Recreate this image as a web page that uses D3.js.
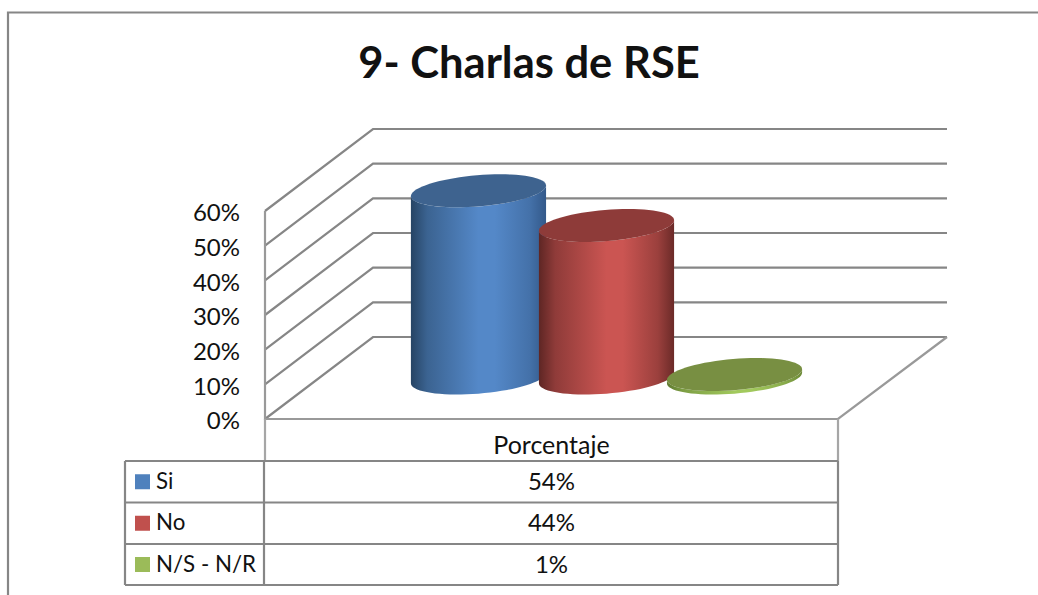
<!DOCTYPE html>
<html>
<head>
<meta charset="utf-8">
<script src="https://cdn.jsdelivr.net/npm/d3@7"></script>
<style>
  html, body { margin: 0; background: #fff; }
  text { font-family: Lato, "Open Sans", sans-serif; fill: #111; }
</style>
</head>
<body>
<div id="chart"></div>
<script>
const seriesNames = ["Si", "No", "N/S - N/R"];
const seriesValues = [0.54, 0.44, 0.01];
const seriesLabels = ["54%", "44%", "1%"];
const axisTicks = [0, 0.1, 0.2, 0.3, 0.4, 0.5, 0.6];
const category = "Porcentaje";
const chartTitle = "9- Charlas de RSE";
const swatch = ["#4f81bd", "#c0504d", "#9bbb59"];
const shades = [
  { dark: "#264464", mid: "#5488c8", edge: "#33598a", top: "#3e638f" },
  { dark: "#5e2624", mid: "#cb5552", edge: "#6b2a28", top: "#8e3b39" },
  { dark: "#5f7a30", mid: "#a2c95d", edge: "#6d8a38", top: "#788f42" }
];

const width = 1038, height = 595;
const depthX = 108, depthY = 82; // wall offset of the 3d box
const left = 265, right = 838, floorY = 419, topY = 211;
const tableX = 125, rowY = [461, 502.5, 544, 585];

const svg = d3.select("#chart").append("svg")
  .attr("width", width).attr("height", height)
  .style("display", "block");

const y = d3.scaleLinear().domain([0, 0.6]).range([floorY, topY]);
const x = d3.scaleBand().domain(seriesNames).range([left, right]).paddingInner(0).paddingOuter(0.738);

const grey = "#868686";
const frame = svg.append("g").attr("fill", "none").attr("stroke", grey).attr("stroke-width", 2.2);

// outer chart border, only top and left show
frame.append("path").attr("d", "M8,595V12.5H1038");

// gridlines run along the side wall then the back wall
frame.selectAll(".grid").data(axisTicks).join("path")
  .attr("class", "grid")
  .attr("d", d => `M${left},${y(d)}L${left + depthX},${y(d) - depthY}L947,${y(d) - depthY}`);

frame.append("path").attr("d", `M${left},${topY}V${floorY}H${right}L947,${floorY - depthY}`).attr("stroke", "#999");

// data table lines
frame.append("path").attr("d", `M${left},${floorY}V${rowY[0]}M${right},${floorY}V${rowY[0]}`).attr("stroke", "#a6a6a6");
frame.selectAll(".row").data(rowY).join("path")
  .attr("class", "row")
  .attr("d", d => `M${tableX},${d}H${right}`);
frame.append("path").attr("d", `M${tableX},${rowY[0]}V${rowY[3]}M${left - 1},${rowY[0]}V${rowY[3]}M${right},${rowY[0]}V${rowY[3]}`);

// y axis labels
const axis = svg.append("g")
  .attr("transform", "translate(240,2)")
  .call(d3.axisLeft(y).tickValues(axisTicks).tickFormat(d3.format(".0%")).tickSize(0).tickPadding(0));
axis.select(".domain").remove();
axis.selectAll("text").style("font-family", "Lato, sans-serif").style("font-size", "24px").attr("fill", "#111");

// cylinders
const defs = svg.append("defs");
shades.forEach((s, i) => {
  const g = defs.append("linearGradient").attr("id", "cyl" + i);
  g.append("stop").attr("offset", "0").attr("stop-color", s.dark);
  g.append("stop").attr("offset", "0.12").attr("stop-color", d3.interpolateRgb(s.dark, s.mid)(0.45));
  g.append("stop").attr("offset", "0.5").attr("stop-color", s.mid);
  g.append("stop").attr("offset", "0.62").attr("stop-color", s.mid);
  g.append("stop").attr("offset", "0.88").attr("stop-color", d3.interpolateRgb(s.edge, s.mid)(0.5));
  g.append("stop").attr("offset", "1").attr("stop-color", s.edge);
});

// base circle as seen in the skewed floor plane
const ux = 64, vx = 21.7, vy = 16.5;
const ring = d3.range(0, 73).map(k => k * Math.PI / 36);
const point = (cx, cy, t) => [cx + ux * Math.cos(t) + vx * Math.sin(t), cy - vy * Math.sin(t)];
const tangent = Math.atan2(vx, ux); // angle of rightmost point

const bars = svg.append("g").selectAll("g").data(seriesNames).join("g");
bars.each(function (name, i) {
  const g = d3.select(this);
  const cx = x(name) + x.bandwidth() / 2 + depthX / 2 + 1;
  const base = floorY - depthY / 2;
  const top = base - (floorY - y(seriesValues[i]));
  const line = d3.line();
  // front half of the base from right to left, then the top from left to right
  const lower = d3.range(0, 37).map(k => point(cx, base, tangent - k * Math.PI / 36));
  const upper = d3.range(0, 37).map(k => point(cx, top, tangent - Math.PI + k * Math.PI / 36));
  g.append("path")
    .attr("d", line(lower.concat(upper)) + "Z")
    .attr("fill", `url(#cyl${i})`);
  g.append("path")
    .attr("d", line(ring.map(t => point(cx, top, t))) + "Z")
    .attr("fill", shades[i].top);
});

// title
svg.append("text")
  .attr("x", 529).attr("y", 78)
  .attr("text-anchor", "middle")
  .style("font-size", "43.5px").style("font-weight", 700)
  .text(chartTitle);

// table text
const midX = (left + right) / 2;
svg.append("text").attr("x", midX).attr("y", 454)
  .attr("text-anchor", "middle").style("font-size", "25px").text(category);

const rows = svg.append("g").selectAll("g").data(seriesNames).join("g")
  .attr("transform", (d, i) => `translate(0,${(rowY[i] + rowY[i + 1]) / 2})`);
rows.append("rect").attr("x", 135).attr("y", -7.5).attr("width", 15).attr("height", 15)
  .attr("fill", (d, i) => swatch[i]);
rows.append("text").attr("x", 156).attr("y", 7).style("font-size", "22.3px").text(d => d);
rows.append("text").attr("x", midX).attr("y", 8).attr("text-anchor", "middle")
  .style("font-size", "24px").text((d, i) => seriesLabels[i]);
</script>
</body>
</html>
